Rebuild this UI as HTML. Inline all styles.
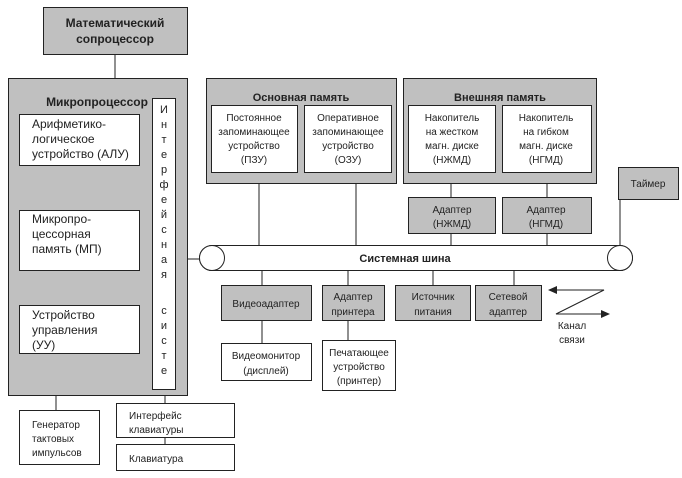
<!DOCTYPE html>
<html><head><meta charset="utf-8"><style>
body{margin:0;background:#fff}
svg{display:block;font-family:"Liberation Sans","DejaVu Sans",sans-serif}
text{font-size:11px;fill:#222;text-anchor:middle}
.b{font-weight:bold;font-size:12px}
</style></head><body>
<svg width="682" height="478" viewBox="0 0 682 478" xmlns="http://www.w3.org/2000/svg">
<g stroke="#222" stroke-width="1" fill="none">
<line x1="115" y1="54" x2="115" y2="78"/>
<line x1="187" y1="259" x2="200" y2="259"/>
<line x1="259" y1="183" x2="259" y2="245"/>
<line x1="356" y1="183" x2="356" y2="245"/>
<line x1="451" y1="183" x2="451" y2="245"/>
<line x1="547" y1="183" x2="547" y2="245"/>
<line x1="620" y1="199" x2="620" y2="247"/>
<line x1="262" y1="270" x2="262" y2="343"/>
<line x1="348" y1="270" x2="348" y2="340"/>
<line x1="433" y1="270" x2="433" y2="285"/>
<line x1="514" y1="270" x2="514" y2="285"/>
<line x1="56" y1="395" x2="56" y2="410"/>
<line x1="165" y1="389" x2="165" y2="444"/>
</g>
<g stroke="#222" fill="#c0c0c0">
<rect x="43.5" y="7.5" width="144" height="47"/>
<rect x="8.5" y="78.5" width="179" height="317"/>
<rect x="206.5" y="78.5" width="190" height="105"/>
<rect x="403.5" y="78.5" width="193" height="105"/>
<rect x="618.5" y="167.5" width="60" height="32"/>
<rect x="408.5" y="197.5" width="87" height="36"/>
<rect x="502.5" y="197.5" width="89" height="36"/>
<rect x="221.5" y="285.5" width="90" height="35"/>
<rect x="322.5" y="285.5" width="62" height="35"/>
<rect x="395.5" y="285.5" width="75" height="35"/>
<rect x="475.5" y="285.5" width="66" height="35"/>
</g>
<g stroke="#222" fill="#fff">
<rect x="152.5" y="98.5" width="23" height="291"/>
<rect x="19.5" y="114.5" width="120" height="51"/>
<rect x="19.5" y="210.5" width="120" height="60"/>
<rect x="19.5" y="305.5" width="120" height="48"/>
<rect x="211.5" y="105.5" width="86" height="67"/>
<rect x="304.5" y="105.5" width="87" height="67"/>
<rect x="408.5" y="105.5" width="87" height="67"/>
<rect x="502.5" y="105.5" width="89" height="67"/>
<rect x="221.5" y="343.5" width="90" height="37"/>
<rect x="322.5" y="340.5" width="73" height="50"/>
<rect x="19.5" y="410.5" width="80" height="54"/>
<rect x="116.5" y="403.5" width="118" height="34"/>
<rect x="116.5" y="444.5" width="118" height="26"/>
<path d="M212 245.5 H620 A12.5 12.5 0 0 1 620 270.5 H212 A12.5 12.5 0 0 1 212 245.5 Z"/>
<circle cx="212" cy="258" r="12.5"/>
<circle cx="620" cy="258" r="12.5"/>
</g>
<g stroke="#222" fill="none">
<path d="M556 290 H604 L556 314 H602"/>
</g>
<path d="M548 290 L557 286 L557 294Z M610 314 L601 310 L601 318Z" fill="#222"/>
<text class="b" x="115" y="27">Математический</text>
<text class="b" x="115" y="43">сопроцессор</text>
<text class="b" x="97" y="106">Микропроцессор</text>
<text x="164" y="113">И</text><text x="164" y="128">н</text><text x="164" y="143">т</text><text x="164" y="158">е</text><text x="164" y="173">р</text><text x="164" y="188">ф</text><text x="164" y="203">е</text><text x="164" y="218">й</text><text x="164" y="233">с</text><text x="164" y="248">н</text><text x="164" y="263">а</text><text x="164" y="278">я</text>
<text x="164" y="314">с</text><text x="164" y="329">и</text><text x="164" y="344">с</text><text x="164" y="359">т</text><text x="164" y="374">е</text><text x="164" y="389" style="font-size:0">.</text>
<text x="164" y="372" style="font-size:0"></text>
<g style="text-anchor:start;font-size:12px">
<text x="32" y="128" style="text-anchor:start;font-size:12px">Арифметико-</text>
<text x="32" y="143" style="text-anchor:start;font-size:12px">логическое</text>
<text x="32" y="158" style="text-anchor:start;font-size:12px">устройство (АЛУ)</text>
<text x="32" y="223" style="text-anchor:start;font-size:12px">Микропро-</text>
<text x="32" y="238" style="text-anchor:start;font-size:12px">цессорная</text>
<text x="32" y="253" style="text-anchor:start;font-size:12px">память (МП)</text>
<text x="32" y="319" style="text-anchor:start;font-size:12px">Устройство</text>
<text x="32" y="334" style="text-anchor:start;font-size:12px">управления</text>
<text x="32" y="349" style="text-anchor:start;font-size:12px">(УУ)</text>
</g>
<text class="b" x="301" y="101" style="font-size:11px">Основная память</text>
<text class="b" x="500" y="101" style="font-size:11px">Внешняя память</text>
<text x="254" y="121" style="font-size:10px">Постоянное</text><text x="254" y="135" style="font-size:10px">запоминающее</text><text x="254" y="149" style="font-size:10px">устройство</text><text x="254" y="163" style="font-size:10px">(ПЗУ)</text>
<text x="348" y="121" style="font-size:10px">Оперативное</text><text x="348" y="135" style="font-size:10px">запоминающее</text><text x="348" y="149" style="font-size:10px">устройство</text><text x="348" y="163" style="font-size:10px">(ОЗУ)</text>
<text x="452" y="121" style="font-size:10px">Накопитель</text><text x="452" y="135" style="font-size:10px">на жестком</text><text x="452" y="149" style="font-size:10px">магн. диске</text><text x="452" y="163" style="font-size:10px">(НЖМД)</text>
<text x="546" y="121" style="font-size:10px">Накопитель</text><text x="546" y="135" style="font-size:10px">на гибком</text><text x="546" y="149" style="font-size:10px">магн. диске</text><text x="546" y="163" style="font-size:10px">(НГМД)</text>
<text x="648" y="187" style="font-size:10px">Таймер</text>
<text x="452" y="213" style="font-size:10px">Адаптер</text><text x="452" y="227" style="font-size:10px">(НЖМД)</text>
<text x="546" y="213" style="font-size:10px">Адаптер</text><text x="546" y="227" style="font-size:10px">(НГМД)</text>
<text class="b" x="405" y="262" style="font-size:11px">Системная шина</text>
<text x="266" y="307" style="font-size:10px">Видеоадаптер</text>
<text x="353" y="300" style="font-size:10px">Адаптер</text><text x="353" y="315" style="font-size:10px">принтера</text>
<text x="433" y="300" style="font-size:10px">Источник</text><text x="433" y="315" style="font-size:10px">питания</text>
<text x="508" y="300" style="font-size:10px">Сетевой</text><text x="508" y="315" style="font-size:10px">адаптер</text>
<text x="572" y="329" style="font-size:10px">Канал</text><text x="572" y="343" style="font-size:10px">связи</text>
<text x="266" y="359" style="font-size:10px">Видеомонитор</text><text x="266" y="374" style="font-size:10px">(дисплей)</text>
<text x="359" y="356" style="font-size:10px">Печатающее</text><text x="359" y="370" style="font-size:10px">устройство</text><text x="359" y="384" style="font-size:10px">(принтер)</text>
<text x="32" y="428" style="text-anchor:start;font-size:10px">Генератор</text><text x="32" y="442" style="text-anchor:start;font-size:10px">тактовых</text><text x="32" y="456" style="text-anchor:start;font-size:10px">импульсов</text>
<text x="129" y="419" style="text-anchor:start;font-size:10px">Интерфейс</text><text x="129" y="433" style="text-anchor:start;font-size:10px">клавиатуры</text>
<text x="129" y="462" style="text-anchor:start;font-size:10px">Клавиатура</text>
</svg>
</body></html>
